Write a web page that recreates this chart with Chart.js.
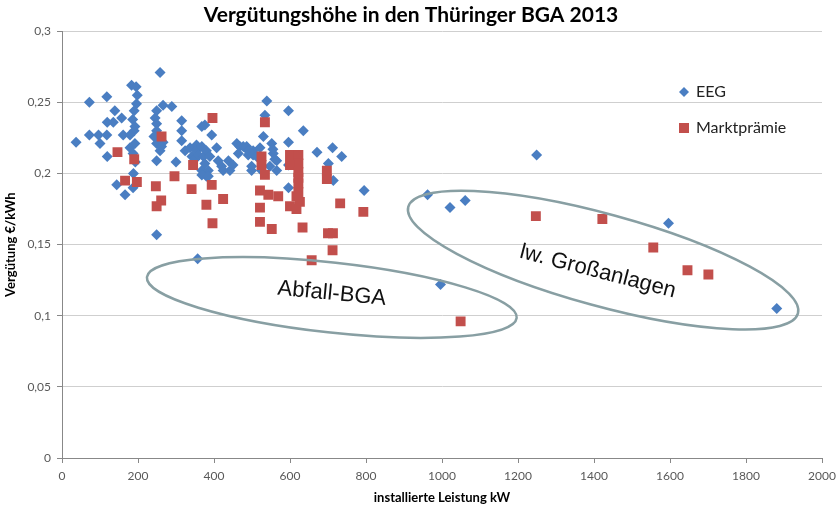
<!DOCTYPE html>
<html>
<head>
    <meta charset="utf-8">
    <title>Vergütungshöhe in den Thüringer BGA 2013</title>
    <script src="https://cdn.jsdelivr.net/npm/chart.js@4.4.1/dist/chart.umd.min.js"></script>
    <style>
        body { margin: 0; background: #fff; }
    </style>
</head>
<body>
    <canvas id="bgaChart" width="837" height="507"></canvas>

    <script>
        // EEG (installed kW, rate €/kWh)
        var eegKW = [37, 72, 118, 139, 157, 119, 135, 72, 96, 118, 161, 100, 119, 144, 166, 188, 187,
            183, 195, 198, 196, 190, 186, 192, 190, 179, 192, 179, 187, 193,
            258, 249, 266, 289, 245, 249, 249, 242, 249, 258, 249, 266, 262, 249, 315, 315, 315, 300,
            324, 337, 342, 350, 354, 354, 359, 368, 368, 376, 372, 380, 389, 376, 368, 385, 380, 368, 385,
            394, 407, 411, 420, 424, 438, 442, 450, 460, 468, 477, 486, 490, 503, 464, 490, 503, 512,
            499, 499, 521, 530, 534, 539, 525, 547, 552, 556, 565, 565, 555, 560,
            596, 596, 596, 596, 635, 671, 712, 736, 701, 714, 795,
            357, 996, 962, 1021, 1061, 1249, 1596, 1881];
        var eegRate = [0.222, 0.250, 0.254, 0.244, 0.239, 0.236, 0.236, 0.227, 0.227, 0.227, 0.227, 0.221, 0.212, 0.192, 0.185, 0.200, 0.190,
            0.262, 0.261, 0.255, 0.249, 0.244, 0.238, 0.233, 0.230, 0.227, 0.221, 0.218, 0.214, 0.208,
            0.271, 0.244, 0.248, 0.247, 0.239, 0.235, 0.230, 0.226, 0.221, 0.216, 0.209, 0.222, 0.219, 0.157, 0.237, 0.230, 0.223, 0.208,
            0.216, 0.218, 0.212, 0.210, 0.220, 0.216, 0.213, 0.219, 0.233, 0.234, 0.212, 0.216, 0.212, 0.207, 0.202, 0.202, 0.198, 0.199, 0.198,
            0.227, 0.218, 0.209, 0.205, 0.202, 0.209, 0.202, 0.206, 0.221, 0.219, 0.219, 0.219, 0.216, 0.216, 0.214, 0.213, 0.213, 0.212,
            0.205, 0.202, 0.218, 0.226, 0.241, 0.251, 0.202, 0.205, 0.221, 0.214, 0.209, 0.202, 0.217, 0.210,
            0.244, 0.222, 0.206, 0.190, 0.230, 0.215, 0.218, 0.212, 0.207, 0.195, 0.188,
            0.140, 0.122, 0.185, 0.176, 0.181, 0.213, 0.165, 0.105];

        // Marktprämie
        var mpKW = [146, 190, 166, 197, 262, 247, 261, 249, 296, 345, 341, 396, 394, 380, 396, 424,
            534, 525, 525, 534, 600, 622, 622, 600, 622, 622, 622, 622, 617, 626, 600, 617,
            697, 697, 521, 543, 569, 521, 521, 552, 633, 700, 713, 712, 657, 732, 793,
            1049, 1247, 1422, 1556, 1646, 1701];
        var mpRate = [0.215, 0.210, 0.195, 0.194, 0.226, 0.191, 0.181, 0.177, 0.198, 0.206, 0.189, 0.239, 0.192, 0.178, 0.165, 0.182,
            0.236, 0.212, 0.206, 0.199, 0.213, 0.213, 0.207, 0.206, 0.201, 0.197, 0.193, 0.187, 0.184, 0.180, 0.177, 0.175,
            0.202, 0.196, 0.188, 0.185, 0.184, 0.176, 0.166, 0.161, 0.162, 0.158, 0.158, 0.146, 0.139, 0.179, 0.173,
            0.096, 0.170, 0.168, 0.148, 0.132, 0.129];

        var seriesNames = ["EEG", "Marktprämie"];

        function toPoints(xs, ys) {
            return xs.map(function(x, i) { return {x: x, y: ys[i]}; });
        }

        // ellipse call-outs, centre in data units
        var callouts = [
            {text: "Abfall-BGA", cx: 710, cy: 0.1128, a: 186, b: 35, angle: 6.3, tx: 710, ty: 0.1155, tAngle: 5.5},
            {text: "lw. Großanlagen", cx: 1424, cy: 0.1391, a: 202, b: 46, angle: 15.3, tx: 1410, ty: 0.1310, tAngle: 14.5}
        ];

        var calloutPlugin = {
            id: 'callouts',
            afterDatasetsDraw: function(chart) {
                var ctx = chart.ctx;
                var xs = chart.scales.x, ys = chart.scales.y;
                callouts.forEach(function(c) {
                    ctx.save();
                    ctx.strokeStyle = '#889fa3';
                    ctx.lineWidth = 2.5;
                    ctx.beginPath();
                    ctx.ellipse(xs.getPixelForValue(c.cx), ys.getPixelForValue(c.cy), c.a, c.b, c.angle * Math.PI / 180, 0, 2 * Math.PI);
                    ctx.stroke();
                    ctx.translate(xs.getPixelForValue(c.tx), ys.getPixelForValue(c.ty));
                    ctx.rotate(c.tAngle * Math.PI / 180);
                    ctx.fillStyle = '#111';
                    ctx.font = '22px "Liberation Sans", Arial, sans-serif';
                    ctx.textAlign = 'center';
                    ctx.textBaseline = 'middle';
                    ctx.fillText(c.text, 0, 0);
                    ctx.restore();
                });
            }
        };

        var legendPlugin = {
            id: 'sideLegend',
            afterDraw: function(chart) {
                var ctx = chart.ctx;
                chart.data.datasets.forEach(function(ds, i) {
                    var y = 92 + i * 36;
                    ctx.save();
                    ctx.fillStyle = ds.backgroundColor;
                    ctx.beginPath();
                    if (ds.pointStyle === 'rectRot') {
                        ctx.moveTo(684, y - 5); ctx.lineTo(689, y); ctx.lineTo(684, y + 5); ctx.lineTo(679, y);
                    } else {
                        ctx.rect(679, y - 5, 10, 10);
                    }
                    ctx.fill();
                    ctx.fillStyle = '#222';
                    ctx.font = '16px Lato, "Open Sans", sans-serif';
                    ctx.textBaseline = 'middle';
                    ctx.fillText(ds.label, 696, y);
                    ctx.restore();
                });
            }
        };

        var tickFont = {family: 'Lato, "Open Sans", sans-serif', size: 12};
        var axisTitleFont = {family: 'Lato, "Open Sans", sans-serif', size: 13, weight: 'bold'};

        new Chart("bgaChart", {
            type: "scatter",
            data: {
                datasets: [{
                    label: seriesNames[0],
                    data: toPoints(eegKW, eegRate),
                    pointStyle: 'rectRot',
                    radius: 5.5,
                    backgroundColor: '#4a7ec2',
                    borderColor: '#4a7ec2',
                    borderWidth: 0,
                    order: 2
                }, {
                    label: seriesNames[1],
                    data: toPoints(mpKW, mpRate),
                    pointStyle: 'rect',
                    radius: 7,
                    backgroundColor: '#c24f4c',
                    borderColor: '#c24f4c',
                    borderWidth: 0,
                    order: 1
                }]
            },
            options: {
                responsive: false,
                animation: false,
                layout: {padding: {left: 0, right: 15, top: 0, bottom: 0}},
                plugins: {
                    legend: {display: false},
                    tooltip: {enabled: false},
                    title: {
                        display: true,
                        text: "Vergütungshöhe in den Thüringer BGA 2013",
                        color: '#000',
                        font: {family: 'Lato, "Open Sans", sans-serif', size: 21, weight: 'bold', lineHeight: 1.2},
                        padding: {top: 3, bottom: 3}
                    }
                },
                scales: {
                    x: {
                        type: 'linear',
                        min: 0,
                        max: 2000,
                        afterFit: function(s) { s.height = 49; s.paddingLeft = 0; s.paddingRight = 0; },
                        ticks: {
                            stepSize: 200, color: '#595959', padding: 6, font: tickFont,
                            callback: function(v) { return String(v); }
                        },
                        grid: {drawOnChartArea: false, tickLength: 5, tickColor: '#888'},
                        border: {color: '#888'},
                        title: {
                            display: true,
                            text: "installierte Leistung kW",
                            color: '#000',
                            font: axisTitleFont,
                            padding: {top: 0, bottom: 1}
                        }
                    },
                    y: {
                        min: 0,
                        max: 0.3,
                        afterFit: function(s) { s.width = 62; s.paddingTop = 0; s.paddingBottom = 0; },
                        ticks: {
                            stepSize: 0.05,
                            color: '#595959',
                            padding: 6,
                            font: tickFont,
                            callback: function(v) { return String(Math.round(v * 100) / 100).replace('.', ','); }
                        },
                        grid: {color: '#cfcfcf', tickLength: 5, tickColor: '#888'},
                        border: {color: '#888'},
                        title: {
                            display: true,
                            text: "Vergütung €/kWh",
                            color: '#000',
                            font: axisTitleFont,
                            padding: {top: 3, bottom: 0}
                        }
                    }
                }
            },
            plugins: [calloutPlugin, legendPlugin]
        });
    </script>
</body>
</html>
